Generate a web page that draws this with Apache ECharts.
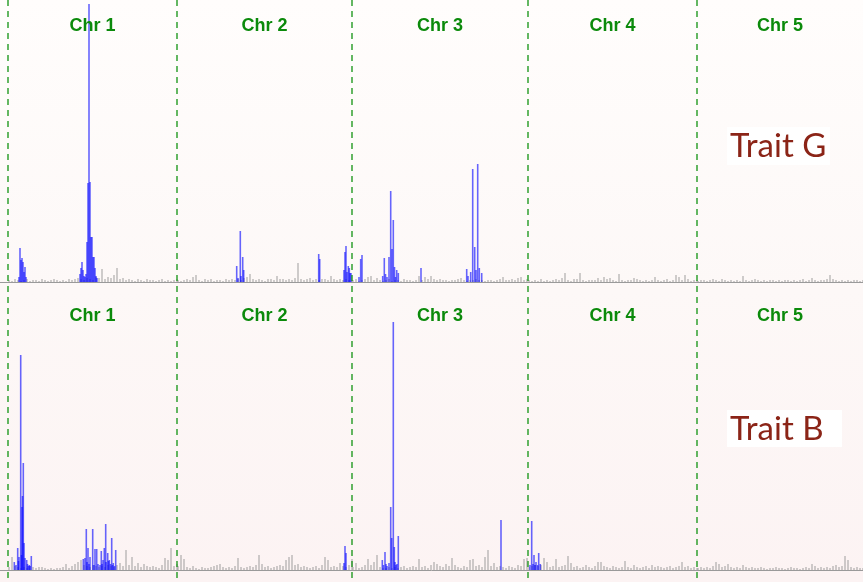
<!DOCTYPE html>
<html>
<head>
<meta charset="utf-8">
<title>QTL scans – Trait G and Trait B</title>
<script src="https://cdn.jsdelivr.net/npm/echarts@6/dist/echarts.min.js"></script>
<style>
  html, body { margin: 0; padding: 0; }
  #chart {
    width: 863px; height: 582px;
    background: linear-gradient(to bottom, #fffdfc 0%, #fdf8f7 50%, #fcf3f3 100%);
  }
</style>
</head>
<body>
<div id="chart"></div>
<script>
// ---- genome layout ----
const chromosomes = ['Chr 1', 'Chr 2', 'Chr 3', 'Chr 4', 'Chr 5'];
const chromLengths = [169, 175, 176, 169, 166];   // cM
const leftPad = 8;                                 // cM before Chr 1
const bgStep = 3;                                  // background markers every 3 cM, from 1 cM

// ---- Trait G: background marker LOD per chromosome ----
const traitG_bg1 = [0.2,0.1,0.3,0.2,0.1,0.2,0.3,0.1,0.2,0.2, 0.1,0.3,0.2,0.1,0.2,0.3,0.2,0.1,0.2,0.1, 0.3,0.2,0.3,0.4,0.3,0.2,0.4,0.3,0.2,0.5, 0.4,1.3,0.3,0.5,0.4,0.7,1.4,0.3,0.4,0.2, 0.3,0.2,0.1,0.3,0.2,0.1,0.3,0.2,0.2,0.1, 0.2,0.3,0.1,0.2,0.1,0.2,0.3];
const traitG_bg2 = [0.2,0.1,0.2,0.3,0.2,0.5,0.7,0.2,0.1,0.3, 0.2,0.3,0.1,0.2,0.2,0.1,0.3,0.2,0.3,0.2, 0.3,0.2,0.4,0.5,0.8,0.3,0.2,0.3,0.2,0.1, 0.3,0.3,0.2,0.6,0.3,0.3,0.2,0.3,0.2,0.4, 1.9,0.3,0.2,0.3,0.4,0.2,0.3,0.2,0.3,0.3, 0.2,0.6,0.3,0.2,0.3,0.2,0.3,0.2,0.2];
const traitG_bg3 = [0.2,0.3,0.1,0.2,0.3,0.5,0.6,0.2,0.4,0.2, 0.1,0.2,0.3,0.1,0.2,0.2,0.1,0.3,0.2,0.2, 0.1,0.2,0.6,0.2,0.5,0.3,0.6,0.3,0.2,0.3, 0.2,0.2,0.1,0.2,0.2,0.3,0.4,0.2,0.1,0.2, 0.2,0.3,0.2,0.2,0.1,0.2,0.2,0.1,0.2,0.3, 0.5,0.2,0.2,0.3,0.2,0.4,0.5,0.2,0.3];
const traitG_bg4 = [0.2,0.1,0.2,0.1,0.3,0.1,0.2,0.1,0.2,0.3, 0.2,0.4,0.9,0.2,0.1,0.3,0.3,0.9,0.2,0.1, 0.2,0.2,0.2,0.4,0.2,0.5,0.3,0.4,0.2,0.1, 0.8,0.2,0.1,0.2,0.2,0.4,0.3,0.2,0.1,0.2, 0.1,0.2,0.5,0.2,0.1,0.2,0.3,0.1,0.2,0.7, 0.5,0.2,0.7,0.3,0.1,0.2,0.2];
const traitG_bg5 = [0.1,0.2,0.2,0.1,0.2,0.3,0.2,0.1,0.3,0.2, 0.1,0.2,0.1,0.2,0.1,0.6,0.2,0.1,0.2,0.3, 0.2,0.1,0.2,0.1,0.2,0.2,0.1,0.2,0.1,0.2, 0.2,0.1,0.2,0.1,0.2,0.3,0.1,0.2,0.4,0.2, 0.1,0.2,0.2,0.3,0.7,0.3,0.2,0.1,0.2,0.1, 0.2,0.1,0.2,0.2,0.1,0.2];

// ---- Trait G: significant markers [chromosome, position cM, LOD] ----
const traitG_qtl = [
  [1,11,0.5],[1,12,3.4],[1,13,2.2],[1,14,2.4],[1,15,2.0],[1,16,1.0],[1,17,1.5],[1,18,0.5],
  [1,72,0.8],[1,73,1.4],[1,74,2.0],[1,75,1.2],[1,76,0.6],[1,77,0.5],[1,78,0.8],[1,79,4.0],
  [1,80,9.9],[1,81,27.8],[1,82,10.0],[1,83,4.5],[1,84,4.5],[1,85,2.5],[1,86,2.5],[1,87,1.4],
  [1,88,0.6],[1,89,0.4],
  [2,59.7,1.6],[2,61,0.4],[2,63.3,5.1],[2,64,0.6],[2,65.7,2.5],[2,66.7,1.2],
  [2,141.7,2.8],[2,142.7,2.3],
  [2,167,1.2],[2,168,3.0],[2,169,3.6],[2,170,1.0],[2,171.3,1.6],[2,172.3,1.4],[2,173,0.9],[2,174,0.9],
  [3,7,0.5],[3,8.7,2.3],[3,10,2.7],
  [3,30.7,0.6],[3,32.3,2.4],[3,33.5,0.8],[3,35,0.5],[3,37,2.5],[3,38.7,9.1],[3,40,3.3],
  [3,41.3,6.2],[3,42.5,1.5],[3,43.5,0.5],[3,44.7,1.2],[3,46.3,0.9],
  [3,69,1.4],
  [3,114.7,1.3],[3,116,0.6],[3,118.7,1.0],[3,120.7,11.3],[3,122.7,3.5],[3,124,1.2],
  [3,125.7,11.8],[3,127.3,1.4],[3,129.7,0.9]
];

// ---- Trait B: background marker LOD per chromosome ----
const traitB_bg1 = [0.3,1.3,0.4,0.3,0.2,0.3,0.2,0.4,0.3,0.2, 0.3,0.3,0.2,0.1,0.2,0.1,0.2,0.2,0.3,0.6, 0.2,0.4,0.6,0.8,1.0,0.5,0.4,0.3,0.5,0.4, 0.3,0.4,0.3,0.5,0.4,0.3,0.5,0.7,0.4,2.0, 0.5,1.3,0.4,0.7,0.3,0.6,0.4,0.3,0.4,0.3, 0.2,0.5,1.2,1.0,2.2,0.4,0.6];
const traitB_bg2 = [0.4,1.5,1.1,0.3,0.2,0.4,0.2,0.1,0.3,0.2, 0.2,0.3,0.4,0.5,0.6,0.3,0.2,0.3,0.2,0.4, 1.2,0.3,0.2,0.3,0.4,0.3,0.5,1.5,0.6,0.3, 0.4,0.2,0.3,0.4,0.5,0.4,1.0,1.3,1.5,0.5, 0.6,0.3,0.4,0.3,0.2,0.3,0.4,0.2,0.5,1.3, 1.0,0.3,0.4,0.3,0.7,0.4,0.3,0.5,1.1];
const traitB_bg3 = [0.3,0.7,0.2,0.3,0.5,1.1,0.5,0.8,1.5,0.3, 0.2,0.2,0.3,0.2,0.3,0.2,0.3,0.4,0.2,0.3, 0.4,0.3,1.1,0.3,0.4,0.2,0.5,0.8,0.6,0.4, 0.3,0.6,0.4,1.2,0.5,0.3,0.2,0.4,0.3,1.0, 1.1,0.4,0.5,0.3,1.3,2.0,0.4,0.7,0.3,0.4, 0.3,0.2,0.4,0.3,0.2,0.5,0.4,1.1,1.2];
const traitB_bg4 = [0.3,0.4,0.5,0.4,0.5,1.2,0.8,0.3,0.4,1.1, 0.3,0.4,0.5,1.4,0.7,0.3,0.4,0.2,0.3,0.5, 0.3,0.2,0.4,0.8,0.8,0.4,0.3,0.2,0.4,0.3, 0.2,0.3,0.9,0.3,0.2,0.5,0.3,0.2,0.3,0.4, 0.2,0.5,0.3,0.4,0.3,0.2,0.3,0.4,0.2,0.3, 0.4,0.8,0.3,0.4,0.2,0.3,0.2];
const traitB_bg5 = [0.2,0.3,0.2,0.3,0.2,0.4,0.8,0.6,0.3,0.4, 0.6,0.3,0.2,0.3,0.2,0.5,0.3,0.2,0.3,0.2, 0.2,0.3,0.2,0.1,0.2,0.2,0.3,0.2,0.2,0.1, 0.2,0.3,0.2,0.2,0.1,0.2,0.3,0.2,0.6,0.4, 0.2,0.3,0.2,0.3,0.2,0.4,0.5,0.3,0.4,1.4, 1.0,0.3,0.2,0.3,0.2,0.2];

// ---- Trait B: significant markers [chromosome, position cM, LOD] ----
const traitB_qtl = [
  [1,6.3,0.8],[1,8,0.5],[1,9.7,2.2],[1,10.5,0.9],[1,11,1.3],[1,12.7,21.5],[1,13.5,1.5],[1,14,6.3],
  [1,14.5,7.4],[1,15.3,10.7],[1,16,2.7],[1,17,1.2],[1,18.7,1.0],[1,19.5,0.6],[1,20.3,0.4],
  [1,21.3,0.5],[1,22,0.4],[1,23.3,1.4],
  [1,75.3,1.1],[1,77,1.2],[1,78.3,4.1],[1,79,0.8],[1,80,2.2],[1,81,0.6],[1,82,1.3],[1,84.7,4.1],
  [1,86,0.5],[1,87,2.1],[1,88.7,2.1],[1,90,0.6],[1,92,0.5],[1,93.3,1.9],[1,94,0.6],[1,95,1.0],
  [1,96.3,2.2],[1,97.7,4.6],[1,98,0.8],[1,99.7,1.7],[1,100.5,0.9],[1,101.3,1.0],[1,102.5,0.6],
  [1,103.7,3.2],[1,104.5,0.5],[1,105.3,0.7],[1,106.5,0.4],[1,107.7,2.0],
  [2,167,0.7],[2,168,2.4],[2,169,1.7],
  [3,30.3,1.0],[3,31.5,0.5],[3,33,1.8],[3,34,0.6],[3,35,0.4],[3,37,0.7],[3,38.7,6.3],[3,39.7,3.2],
  [3,41.3,24.8],[3,42.3,2.3],[3,43,0.8],[3,44,0.5],[3,45,0.6],[3,46.3,3.4],
  [3,149,5.0],
  [4,2,0.5],[4,3.7,4.9],[4,5,0.6],[4,6,1.5],[4,7,0.5],[4,8,0.8],[4,9.5,0.5],[4,10.7,1.7],[4,12.3,0.6]
];

const traits = [
  { name: 'Trait G', bg: [traitG_bg1, traitG_bg2, traitG_bg3, traitG_bg4, traitG_bg5], qtl: traitG_qtl },
  { name: 'Trait B', bg: [traitB_bg1, traitB_bg2, traitB_bg3, traitB_bg4, traitB_bg5], qtl: traitB_qtl }
];

// cumulative chromosome offsets along the genome axis
const chromOffsets = [];
chromLengths.reduce((acc, len, i) => { chromOffsets[i] = acc; return acc + len; }, 0);
const genomeEnd = chromOffsets[4] + chromLengths[4];
const lodMax = 28.2;

function bgData(perChrom) {
  const out = [];
  perChrom.forEach((vals, c) => {
    vals.forEach((v, i) => {
      const pos = 1 + i * bgStep;
      if (pos <= chromLengths[c]) out.push([chromOffsets[c] + pos, v]);
    });
  });
  return out;
}
function qtlData(list) {
  return list.map(([c, pos, lod]) => [chromOffsets[c - 1] + pos, lod]);
}

function barRenderer(widthPx, color, opacity) {
  return function (params, api) {
    const x = api.value(0), v = api.value(1);
    const top = api.coord([x, v]);
    const base = api.coord([x, 0]);
    return {
      type: 'rect',
      shape: { x: top[0] - widthPx / 2, y: top[1], width: widthPx, height: base[1] - top[1] },
      style: { fill: color, opacity: opacity }
    };
  };
}
function labelRenderer(dy) {
  return function (params, api) {
    const p = api.coord([api.value(0), lodMax]);
    return {
      type: 'text',
      x: p[0], y: p[1] + dy,
      style: {
        text: chromosomes[api.value(2)],
        fill: '#0b8a0b',
        font: 'bold 18px "Liberation Sans", Arial, sans-serif',
        align: 'center', verticalAlign: 'middle'
      }
    };
  };
}
// dashed chromosome boundary spanning the full height
function boundaryRenderer(params, api) {
  const top = api.coord([api.value(0), 1]);
  const bottom = api.coord([api.value(0), 0]);
  const x = top[0];
  return {
    type: 'line',
    shape: { x1: x, y1: top[1], x2: x, y2: bottom[1] },
    style: { stroke: '#129312', lineWidth: 1.3, lineDash: [6, 5] }
  };
}

const chart = echarts.init(document.getElementById('chart'), null, { renderer: 'canvas' });

const xAxisBase = {
  type: 'value', min: -leftPad, max: genomeEnd,
  axisLine: { show: true, onZero: false, lineStyle: { color: '#9a9a9a', width: 1 } },
  axisTick: { show: false }, axisLabel: { show: false }, splitLine: { show: false }
};
const yAxisBase = {
  type: 'value', min: 0, max: lodMax,
  axisLine: { show: false }, axisTick: { show: false }, axisLabel: { show: false }, splitLine: { show: false }
};

const labelRows = chromosomes.map((n, i) => [chromOffsets[i] + chromLengths[i] / 2, lodMax, i]);
const series = [];
traits.forEach((t, k) => {
  series.push({
    type: 'custom', name: t.name + ' background', xAxisIndex: k, yAxisIndex: k,
    renderItem: barRenderer(1.4, '#8c8c8c', 0.6), data: bgData(t.bg), silent: true, z: 2
  });
  series.push({
    type: 'custom', name: t.name + ' QTL', xAxisIndex: k, yAxisIndex: k,
    renderItem: barRenderer(1.6, '#0000ff', 0.6), data: qtlData(t.qtl), silent: true, z: 3
  });
  series.push({
    type: 'custom', name: t.name + ' chromosomes', xAxisIndex: k, yAxisIndex: k,
    renderItem: labelRenderer(k === 0 ? 26 : 28), data: labelRows, silent: true, z: 4
  });
});
series.push({
  type: 'custom', name: 'boundaries', xAxisIndex: 2, yAxisIndex: 2,
  renderItem: boundaryRenderer, data: chromOffsets.map(o => [o]), silent: true, z: 5
});

chart.setOption({
  animation: false,
  backgroundColor: 'transparent',
  grid: [
    { left: 0, right: 0, top: 0, height: 282 },
    { left: 0, right: 0, top: 288, height: 282 },
    { left: 0, right: 0, top: 0, bottom: 0 }
  ],
  xAxis: [
    Object.assign({}, xAxisBase, { gridIndex: 0 }),
    Object.assign({}, xAxisBase, { gridIndex: 1 }),
    Object.assign({}, xAxisBase, { gridIndex: 2, axisLine: { show: false } })
  ],
  yAxis: [
    Object.assign({}, yAxisBase, { gridIndex: 0 }),
    Object.assign({}, yAxisBase, { gridIndex: 1 }),
    Object.assign({}, yAxisBase, { gridIndex: 2, max: 1 })
  ],
  graphic: [
    { type: 'rect', left: 727, top: 127, shape: { width: 103, height: 38 }, style: { fill: '#ffffff' }, z: 10 },
    { type: 'text', left: 730, top: 130, style: { text: 'Trait G', fill: '#8b2417', font: '33px Lato, "Open Sans", sans-serif' }, z: 11 },
    { type: 'rect', left: 727, top: 410, shape: { width: 115, height: 37 }, style: { fill: '#ffffff' }, z: 10 },
    { type: 'text', left: 730, top: 413, style: { text: 'Trait B', fill: '#8b2417', font: '33px Lato, "Open Sans", sans-serif' }, z: 11 }
  ],
  series: series
});
</script>
</body>
</html>
